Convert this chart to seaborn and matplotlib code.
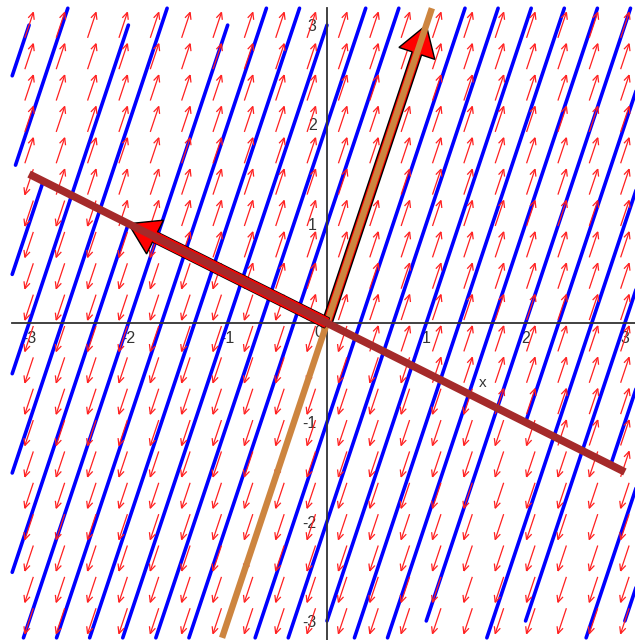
import numpy as np
import pandas as pd
import matplotlib
matplotlib.use("Agg")
import matplotlib.pyplot as plt
import seaborn as sns
from matplotlib.collections import LineCollection

# --------------------------
# Datos del sistema x' = A x
# --------------------------
A = np.array([[1.0, 2.0], [3.0, 6.0]]) / 7.0

# vectores propios dibujados como flechas gruesas
vec_fast = np.array([1.0, 3.0])    # autovalor 1
vec_slow = np.array([-2.0, 1.0])   # autovalor 0

# trayectorias azules: rectas x = (k + y) / 3, visibles entre y_lo e y_hi
traj_k = [-12, -11, -10, -9, -8, -7, -6, -5, -4, -3, -2, -1,
          1, 2, 3, 4, 5, 6, 7, 8, 9, 10, 11, 12]
traj_ylo = [2.49, 1.59, 0.49, -0.51, -1.51, -2.51, -3.17, -3.17, -3.17, -3.17, -3.17, -3.17,
            -3.17, -3.17, -3.00, -3.17, -3.17, -3.00, -1.00, -3.17, -3.00, -1.43, -3.17, -3.00]
traj_yhi = [3.00, 3.17, 1.43, 3.00, 3.17, 1.00, 3.00, 3.17, 3.17, 3.00, 3.17, 3.17,
            3.17, 3.17, 3.17, 3.17, 3.17, 3.17, 2.51, 1.51, 0.51, -0.49, -1.59, -2.49]

# malla del campo de direcciones
grid_vals = np.linspace(-3, 3, 20)

# ejes
xticks_major = [-3, -2, -1, 1, 2, 3]
yticks_major = [-3, -2, -1, 1, 2, 3]
box = 3.17

# --------------------------
# Figura
# --------------------------
sns.set_style("white")
plt.rcParams["font.family"] = ["Liberation Sans", "DejaVu Sans"]

fig = plt.figure(figsize=(6.35, 6.4), dpi=100)
ax = fig.add_axes([0, 0, 1, 1])
ax.set_xlim(-3.293, 3.102)
ax.set_ylim(-3.192, 3.253)

# trayectorias (seaborn)
rows = []
for k, lo, hi in zip(traj_k, traj_ylo, traj_yhi):
    for yv in (lo, hi):
        rows.append({"seg": k, "x": (k + yv) / 3.0, "y": yv})
df_traj = pd.DataFrame(rows)
sns.lineplot(data=df_traj, x="x", y="y", units="seg", estimator=None, sort=False,
             color="#0000ff", linewidth=2.6, ax=ax, zorder=1)

# campo de direcciones: flechas rojas finas
L = 0.27
h = 0.075
ang = np.deg2rad(25)
segs = []
for gx in grid_vals:
    for gy in grid_vals:
        v = A @ np.array([gx, gy])
        d = v / np.linalg.norm(v)
        p = np.array([gx, gy])
        tail = p - d * L / 2
        tip = p + d * L / 2
        segs.append([tail, tip])
        for s in (ang, -ang):
            r = np.array([[np.cos(s), -np.sin(s)], [np.sin(s), np.cos(s)]])
            segs.append([tip, tip - h * (r @ d)])
ax.add_collection(LineCollection(segs, colors="#ff2020", linewidths=0.9, zorder=1.5))

# ejes en el origen
for side in ("top", "right"):
    ax.spines[side].set_visible(False)
ax.spines["left"].set_position(("data", 0))
ax.spines["bottom"].set_position(("data", 0))
ax.spines["bottom"].set_bounds(-box, box)
ax.spines["left"].set_bounds(-3.25, box)
for side in ("left", "bottom"):
    ax.spines[side].set_color("#333333")
    ax.spines[side].set_linewidth(1.3)
    ax.spines[side].set_zorder(2.5)

ax.set_xticks(xticks_major)
ax.set_xticklabels([str(t) for t in xticks_major])
ax.set_yticks(yticks_major)
ax.set_yticklabels([str(t) for t in yticks_major])
ax.set_xticks(np.round(np.arange(-3.0, 3.01, 0.2), 2), minor=True)
ax.set_yticks(np.round(np.arange(-3.0, 3.01, 0.2), 2), minor=True)
ax.tick_params(which="both", direction="out", length=3, width=1, color="#333333",
               labelsize=11.5, labelcolor="#333333")
ax.tick_params(axis="x", pad=3)
ax.tick_params(axis="y", pad=4.5)
ax.set_xlabel("")
ax.set_ylabel("")
ax.text(-0.08, -0.1, "0", fontsize=11.5, color="#333333", ha="center", va="center", zorder=2.6)
ax.text(1.57, -0.6, "x", fontsize=11, color="#333333", ha="center", va="center")

# recta naranja (dirección rápida) y su flecha
ax.arrow(0, 0, vec_fast[0], vec_fast[1], width=0.1, head_width=0.38, head_length=0.3,
         length_includes_head=True, fc="#ff0000", ec="black", lw=1.0, zorder=3.5)
t_f = np.array([-box / 3, box / 3])
ax.plot(t_f * vec_fast[0], t_f * vec_fast[1], color="#cd853f", lw=4.6,
        solid_capstyle="butt", zorder=3.6)

# recta marrón (dirección lenta) y su flecha
ax.arrow(0, 0, vec_slow[0], vec_slow[1], width=0.11, head_width=0.38, head_length=0.3,
         length_includes_head=True, fc="#ff0000", ec="black", lw=1.0, zorder=4)
body_end = 1 - 0.3 / np.linalg.norm(vec_slow)
ax.plot([0, body_end * vec_slow[0]], [0, body_end * vec_slow[1]], color="#ff0000",
        lw=7.8, solid_capstyle="butt", zorder=4.1)
t_s = np.array([-1.5, 1.5])
ax.plot(t_s * vec_slow[0], t_s * vec_slow[1], color="#a52a2a", lw=5.5,
        solid_capstyle="butt", zorder=4.2)

fig.savefig("out.png", dpi=100)
